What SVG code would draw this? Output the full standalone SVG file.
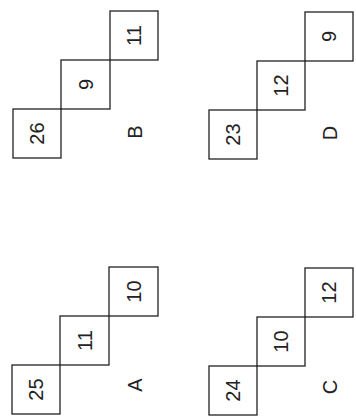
<svg xmlns="http://www.w3.org/2000/svg" width="356" height="418" viewBox="0 0 356 418">
<style>
.b{fill:none;stroke:#222;stroke-width:1.3}
.t{font-family:"Liberation Sans",Arial,sans-serif;font-size:20px;fill:#222;text-anchor:middle}
</style>
<rect width="356" height="418" fill="#fff"/>
<g id="A">
<rect class="b" x="12" y="365" width="48" height="49"/>
<rect class="b" x="60" y="316" width="49" height="49"/>
<rect class="b" x="109" y="267" width="49" height="49"/>
<text class="t" transform="translate(36,389.5) rotate(-90)" y="7">25</text>
<text class="t" transform="translate(84.5,340.5) rotate(-90)" y="7">11</text>
<text class="t" transform="translate(133.5,291.5) rotate(-90)" y="7">10</text>
<text class="t" transform="translate(135,385) rotate(-90)" y="7">A</text>
</g>
<g id="B">
<rect class="b" x="13" y="109" width="48" height="49"/>
<rect class="b" x="61" y="60" width="49" height="49"/>
<rect class="b" x="110" y="11" width="48" height="49"/>
<text class="t" transform="translate(37,133.5) rotate(-90)" y="7">26</text>
<text class="t" transform="translate(85.5,84.5) rotate(-90)" y="7">9</text>
<text class="t" transform="translate(134,35.5) rotate(-90)" y="7">11</text>
<text class="t" transform="translate(135,132) rotate(-90)" y="7">B</text>
</g>
<g id="C">
<rect class="b" x="209" y="366" width="48" height="49"/>
<rect class="b" x="257" y="317" width="48" height="49"/>
<rect class="b" x="305" y="268" width="48" height="49"/>
<text class="t" transform="translate(233,390.5) rotate(-90)" y="7">24</text>
<text class="t" transform="translate(281,341.5) rotate(-90)" y="7">10</text>
<text class="t" transform="translate(329,292.5) rotate(-90)" y="7">12</text>
<text class="t" transform="translate(330,387) rotate(-90)" y="7">C</text>
</g>
<g id="D">
<rect class="b" x="209" y="110" width="48" height="49"/>
<rect class="b" x="257" y="61" width="48" height="49"/>
<rect class="b" x="305" y="12" width="48" height="49"/>
<text class="t" transform="translate(233,134.5) rotate(-90)" y="7">23</text>
<text class="t" transform="translate(281,85.5) rotate(-90)" y="7">12</text>
<text class="t" transform="translate(329,36.5) rotate(-90)" y="7">9</text>
<text class="t" transform="translate(330,133) rotate(-90)" y="7">D</text>
</g>
<g id="connectors"/>
</svg>
